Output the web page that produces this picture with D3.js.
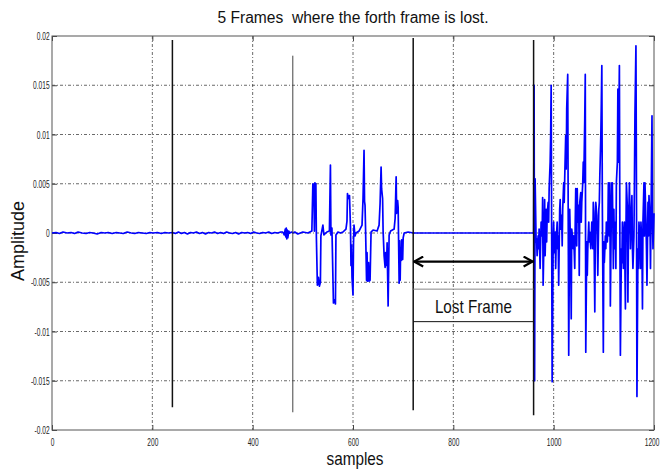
<!DOCTYPE html>
<html>
<head>
<meta charset="utf-8">
<script src="https://cdn.jsdelivr.net/npm/d3@7"></script>
<style>
  body { margin: 0; background: #fff; }
  svg { display: block; }
  text { font-family: "Liberation Sans", Arial, sans-serif; }
</style>
</head>
<body>
<svg id="chart" width="661" height="471"></svg>
<script>
// tick values and labels
const xTicks = [0, 200, 400, 600, 800, 1000, 1200];
const yTicks = [-0.02, -0.015, -0.01, -0.005, 0, 0.005, 0.01, 0.015, 0.02];
const yTickLabels = ["-0.02", "-0.015", "-0.01", "-0.005", "0", "0.005", "0.01", "0.015", "0.02"];

// frame boundaries (samples) and the extent of each black marker line
const frameBounds = [240, 480, 720, 960];
const boundTop = [0.0196, 0.018, 0.0198, 0.0196];
const boundBottom = [-0.0177, -0.0182, -0.018, -0.0185];

// lost frame annotation
const lostFrame = [720, 960];
const arrowLevel = -0.0029;
const boxLevels = [-0.0057, -0.009];

// signal, [sample, amplitude]
const frame1 = [[0,0],[8,0.00005],[15,-0.00005],[22,0.0001],[30,0],[38,0.00005],[45,-0.00005],[52,0.0001],
  [60,0],[68,-0.00005],[75,0.00005],[82,0],[90,-0.0001],[98,0.00005],[105,0],[112,0.00005],[120,-0.00005],
  [128,0.00005],[135,0],[142,-0.00005],[150,0.0001],[158,0],[165,-0.00005],[172,0.00005],[180,0],
  [188,-0.00005],[195,0.00005],[202,0],[210,0.00005],[218,-0.00005],[225,0.00005],[232,0],[240,0.00005]];

const frame2 = [[246,-0.00005],[252,0.0001],[258,-0.00005],[264,0.00005],[270,-0.0001],[276,0.00005],[282,0],
  [288,0.0001],[294,-0.00005],[300,0.00005],[306,-0.0001],[312,0.00005],[318,0],[324,0.0001],[330,-0.00005],
  [336,0.00005],[342,-0.00005],[348,0.0001],[354,0],[360,-0.00005],[366,0.00005],[372,-0.0001],[378,0.00005],
  [384,0],[390,0.00005],[396,-0.00005],[402,0.0001],[408,0],[414,-0.00005],[420,0.00005],[426,0],
  [432,0.0001],[438,-0.00005],[444,0.00005],[450,0],[456,0.0001],[460,0.0001],[463,-0.0002],[465,0.0004],
  [466,-0.0004],[467,0.0005],[468,-0.0006],[469,0.0003],[470,-0.0005],[472,0.0002],[474,0],[478,0.0001]];

const frame3 = [[480,0],[484,0.0001],[490,-0.0001],[500,0.0001],[510,0],[518,0.0002],[520,0.005],
  [522,0.0049],[523,0.0002],[524,0.0051],[526,0.005],[527,-0.0004],[529,-0.0053],[531,-0.0045],
  [533,-0.0054],[535,-0.005],[536,-0.0003],[540,0.0008],[542,-0.0002],[548,0.0001],[553,0.0002],
  [555,0.0069],[556,-0.0002],[558,0.0005],[561,-0.0071],[563,-0.0068],[565,-0.0072],[566,-0.0002],
  [570,0.0001],[575,0],[580,0.0001],[586,0.0004],[588,0.0012],[589,0.004],[591,0.0035],[593,0.0038],
  [595,0.0005],[596,-0.0033],[597,-0.0012],[598,-0.0045],[600,-0.0063],[601,-0.001],[602,0.0008],
  [604,-0.0003],[606,0],[612,0.0002],[618,0.0008],[620,0.0035],[622,0.0084],[623,0.0032],[624,0.0028],
  [625,0.0005],[627,-0.0048],[628,-0.002],[629,-0.0049],[631,-0.003],[632,-0.0049],[634,-0.0048],
  [636,0.0001],[640,0.0003],[648,0.0002],[652,0.0008],[654,0.003],[656,0.0067],[657,0.0045],
  [659,0.0035],[660,0.0002],[662,-0.0023],[664,-0.0035],[665,-0.002],[667,-0.0033],[668,-0.001],
  [670,-0.0074],[672,-0.0002],[675,0.0002],[682,0.0004],[684,0.0015],[686,0.0057],[687,0.002],
  [689,0.0033],[690,0.0026],[692,-0.0051],[693,-0.0008],[694,-0.0048],[695,-0.0015],[696,-0.0028],
  [697,-0.0007],[699,-0.0027],[700,-0.0005],[702,0],[710,0.0001],[720,0]];

const frame4 = [[720,0],[960,0]];

const frame5 = [[960,0],[961,0.015],[962,-0.015],[963,0.0055],[965,-0.0009],[966,-0.0006],[967,-0.0023],
  [969,-0.0003],[970,-0.0016],[971,0.0004],[973,-0.0036],[974,-0.0009],[975,0.0011],[977,-0.0003],
  [978,0.0036],[979,-0.0053],[981,0.0004],[982,0.0034],[983,-0.0023],[985,0.0024],[986,-0.0009],
  [987,0.0018],[989,0.0031],[990,0.0011],[991,0.0045],[993,0.0072],[994,0.0099],[995,0.015],
  [997,-0.0151],[999,-0.0009],[1000,0.0011],[1001,-0.002],[1003,0.0001],[1004,-0.0036],[1005,-0.0009],
  [1007,0.0011],[1008,-0.0016],[1009,-0.0003],[1010,-0.0053],[1012,0.0024],[1013,0.0034],[1014,0.0004],
  [1016,0.0018],[1017,-0.0013],[1018,0.0024],[1020,0.0051],[1021,0.0031],[1022,0.0055],[1024,0.0099],
  [1025,0.0065],[1026,0.0126],[1028,0.0161],[1030,-0.0124],[1032,0.0024],[1034,-0.0023],[1035,-0.0087],
  [1036,0.0004],[1038,-0.0006],[1039,-0.0016],[1040,-0.0003],[1042,-0.0036],[1043,0.0011],[1044,0.0045],
  [1046,-0.0013],[1047,0.0045],[1048,0.0011],[1050,0.0028],[1051,-0.0043],[1052,0.0031],[1054,0.0041],
  [1055,0.0011],[1056,0.0031],[1058,0.0051],[1059,0.0072],[1060,0.0051],[1062,0.0116],[1063,0.0161],
  [1064,-0.0121],[1066,-0.0009],[1067,-0.0043],[1068,-0.0016],[1070,0.0011],[1071,-0.0009],[1072,0.0001],
  [1074,-0.0016],[1075,-0.0003],[1076,0.0011],[1078,-0.0016],[1079,0.0031],[1080,0.0021],[1082,-0.008],
  [1083,-0.0003],[1084,0.0031],[1086,0.0018],[1087,-0.0009],[1088,-0.0043],[1090,0.0024],[1091,0.0031],
  [1092,0.0058],[1094,0.0099],[1095,0.0132],[1096,0.017],[1097,0.0031],[1099,-0.0121],[1100,-0.0009],
  [1101,-0.003],[1103,-0.0003],[1104,-0.0016],[1105,0.0011],[1107,-0.0009],[1108,0.0004],[1109,0.0051],
  [1111,-0.0003],[1112,0.0051],[1113,-0.0074],[1115,0.0024],[1116,0.0051],[1117,0.0051],[1119,-0.0036],
  [1120,0.0024],[1121,-0.0016],[1123,0.0011],[1124,-0.0036],[1125,0.0051],[1127,0.0072],[1128,0.0146],
  [1129,0.0072],[1131,0.017],[1132,-0.0003],[1133,-0.0124],[1135,-0.0016],[1136,-0.003],[1137,0.0011],
  [1139,-0.0036],[1140,-0.0003],[1141,0.0011],[1143,-0.0077],[1144,-0.0003],[1145,0.0051],[1147,0.0024],
  [1148,-0.007],[1149,-0.0003],[1151,0.0051],[1152,0.0018],[1153,-0.0016],[1155,0.0024],[1156,0.0038],
  [1157,-0.0016],[1158,-0.0036],[1160,-0.0003],[1161,0.0051],[1162,0.0119],[1164,0.019],[1165,0.0051],
  [1166,-0.0166],[1168,-0.0016],[1169,-0.0036],[1170,0.0011],[1172,-0.0009],[1173,-0.0036],[1174,0.0011],
  [1176,-0.0016],[1177,-0.0077],[1178,0.0011],[1180,0.0051],[1181,-0.0003],[1182,0.0051],[1184,0.0011],
  [1185,-0.0016],[1186,-0.0053],[1188,0.0031],[1189,-0.0003],[1190,0.0038],[1192,0.0011],[1193,-0.0036],
  [1194,0.0011],[1196,0.0119],[1197,0.0011],[1198,-0.0016],[1200,0.002]];

const signal = frame1.concat(frame2, frame3, frame4, frame5);

const margin = { top: 36, right: 7, bottom: 41, left: 52 };
const width = 661, height = 471;

const svg = d3.select("#chart");

const x = d3.scaleLinear().domain([0, 1200]).range([margin.left, width - margin.right]);
const y = d3.scaleLinear().domain([-0.02, 0.02]).range([height - margin.bottom, margin.top]);

// grid
const grid = svg.append("g")
  .attr("stroke", "#444")
  .attr("stroke-width", 0.8)
  .attr("stroke-dasharray", "3,2,1,2");

grid.selectAll(".gx")
  .data(xTicks.slice(1, -1))
  .join("line")
  .attr("x1", d => x(d)).attr("x2", d => x(d))
  .attr("y1", y(0.02)).attr("y2", y(-0.02));

grid.selectAll(".gy")
  .data(yTicks.slice(1, -1))
  .join("line")
  .attr("x1", x(0)).attr("x2", x(1200))
  .attr("y1", d => y(d)).attr("y2", d => y(d));

// narrow, slightly tall tick labels like the original figure
const tickFont = g => g.selectAll("text")
  .attr("font-size", 11)
  .attr("fill", "#222")
  .attr("transform", "scale(0.6,1)");

svg.append("g")
  .attr("transform", "translate(0," + y(-0.02) + ")")
  .call(d3.axisBottom(x).tickValues(xTicks).tickSizeInner(-5).tickSizeOuter(0).tickPadding(8).tickFormat(d3.format("d")))
  .call(g => g.select(".domain").remove())
  .call(g => g.selectAll("line").attr("stroke", "#444"))
  .call(tickFont)
  .call(g => g.selectAll(".tick:last-of-type text").attr("x", -4))
  .attr("font-family", null);

svg.append("g")
  .attr("transform", "translate(" + x(0) + ",0)")
  .call(d3.axisLeft(y).tickValues(yTicks).tickSizeInner(-5).tickSizeOuter(0).tickPadding(4)
    .tickFormat((d, i) => yTickLabels[i]))
  .call(g => g.select(".domain").remove())
  .call(g => g.selectAll("line").attr("stroke", "#444"))
  .call(tickFont)
  .attr("font-family", null);

svg.append("g")
  .attr("transform", "translate(0," + y(0.02) + ")")
  .call(d3.axisTop(x).tickValues(xTicks).tickSizeInner(-5).tickSizeOuter(0).tickFormat(""))
  .call(g => g.select(".domain").remove())
  .call(g => g.selectAll("line").attr("stroke", "#444"));

svg.append("g")
  .attr("transform", "translate(" + x(1200) + ",0)")
  .call(d3.axisRight(y).tickValues(yTicks).tickSizeInner(-5).tickSizeOuter(0).tickFormat(""))
  .call(g => g.select(".domain").remove())
  .call(g => g.selectAll("line").attr("stroke", "#444"));

// plot box
svg.append("rect")
  .attr("x", x(0)).attr("y", y(0.02))
  .attr("width", x(1200) - x(0)).attr("height", y(-0.02) - y(0.02))
  .attr("fill", "none").attr("stroke", "#555").attr("stroke-width", 1);

// signal
const line = d3.line().x(d => x(d[0])).y(d => y(d[1]));
svg.append("path")
  .datum(signal)
  .attr("d", line)
  .attr("fill", "none")
  .attr("stroke", "#0000ff")
  .attr("stroke-width", 1.7)
  .attr("stroke-linejoin", "round");

// frame boundary markers
svg.append("g")
  .selectAll("line")
  .data(frameBounds)
  .join("line")
  .attr("x1", d => x(d)).attr("x2", d => x(d))
  .attr("y1", (d, i) => y(boundTop[i]))
  .attr("y2", (d, i) => y(boundBottom[i]))
  .attr("stroke", (d, i) => i === 1 ? "#444" : "#111")
  .attr("stroke-width", (d, i) => i === 1 ? 1 : 1.5);

// lost frame box
svg.append("line")
  .attr("x1", x(lostFrame[0])).attr("x2", x(lostFrame[1]))
  .attr("y1", y(boxLevels[0])).attr("y2", y(boxLevels[0]))
  .attr("stroke", "#888").attr("stroke-width", 1);
svg.append("line")
  .attr("x1", x(lostFrame[0])).attr("x2", x(lostFrame[1]))
  .attr("y1", y(boxLevels[1])).attr("y2", y(boxLevels[1]))
  .attr("stroke", "#111").attr("stroke-width", 1);

// double arrow
const defs = svg.append("defs");
defs.append("marker")
  .attr("id", "head")
  .attr("viewBox", "-11 -6 12 12")
  .attr("refX", 0).attr("refY", 0)
  .attr("markerWidth", 12).attr("markerHeight", 12)
  .attr("markerUnits", "userSpaceOnUse")
  .attr("orient", "auto-start-reverse")
  .append("path")
  .attr("d", "M-9,-5 L0,0 L-9,5")
  .attr("fill", "none").attr("stroke", "#000").attr("stroke-width", 2.2);

svg.append("line")
  .attr("x1", x(lostFrame[0]) + 1).attr("x2", x(lostFrame[1]) - 1)
  .attr("y1", y(arrowLevel)).attr("y2", y(arrowLevel))
  .attr("stroke", "#000").attr("stroke-width", 2.2)
  .attr("marker-start", "url(#head)")
  .attr("marker-end", "url(#head)");

svg.append("text")
  .attr("x", (x(lostFrame[0]) + x(lostFrame[1])) / 2)
  .attr("y", y(-0.0081))
  .attr("text-anchor", "middle")
  .attr("font-size", 19)
  .attr("textLength", 77)
  .attr("lengthAdjust", "spacingAndGlyphs")
  .attr("fill", "#111")
  .text("Lost Frame");

// title and axis labels
svg.append("text")
  .attr("x", 353).attr("y", 23)
  .attr("text-anchor", "middle")
  .attr("font-size", 16)
  .attr("textLength", 271)
  .attr("lengthAdjust", "spacingAndGlyphs")
  .attr("fill", "#111")
  .style("white-space", "pre")
  .text("5 Frames  where the forth frame is lost.");

svg.append("text")
  .attr("x", 355).attr("y", 465)
  .attr("text-anchor", "middle")
  .attr("font-size", 19)
  .attr("textLength", 57)
  .attr("lengthAdjust", "spacingAndGlyphs")
  .attr("fill", "#111")
  .text("samples");

svg.append("text")
  .attr("transform", "translate(24,241) rotate(-90)")
  .attr("text-anchor", "middle")
  .attr("font-size", 18)
  .attr("textLength", 80)
  .attr("lengthAdjust", "spacingAndGlyphs")
  .attr("fill", "#111")
  .text("Amplitude");
</script>
</body>
</html>
